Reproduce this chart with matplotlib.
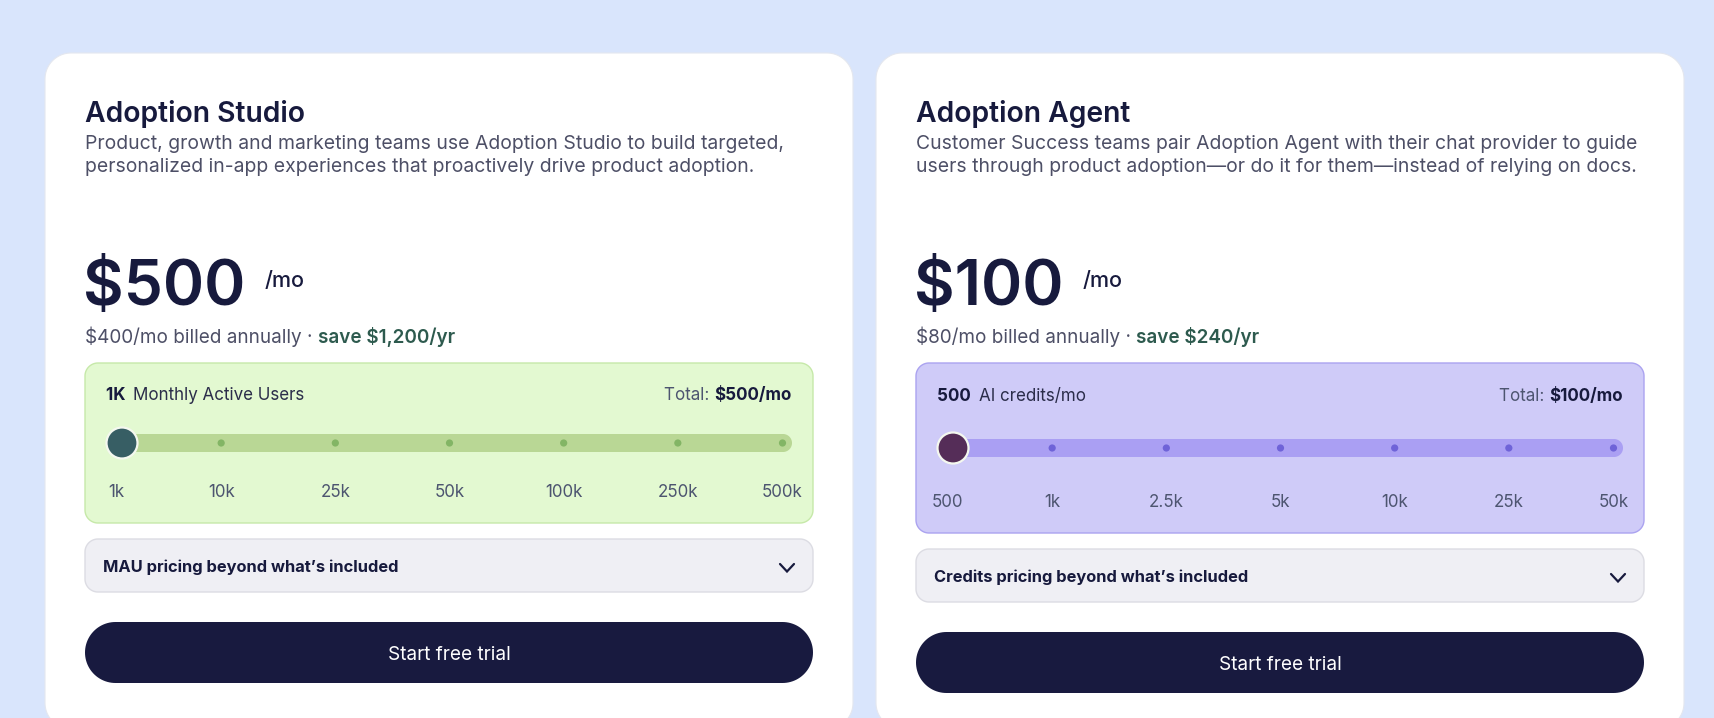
import matplotlib
matplotlib.use("Agg")
import matplotlib.pyplot as plt
from matplotlib.patches import Polygon, Circle
import numpy as np

W, H = 1714, 718
FONT = "Inter"

# card content
titles = ["Adoption Studio", "Adoption Agent"]
descriptions = [
    ["Product, growth and marketing teams use Adoption Studio to build targeted,",
     "personalized in-app experiences that proactively drive product adoption."],
    ["Customer Success teams pair Adoption Agent with their chat provider to guide",
     "users through product adoption\u2014or do it for them\u2014instead of relying on docs."],
]
prices = ["$500", "$100"]
annual_prices = ["$400/mo billed annually \u00b7 ", "$80/mo billed annually \u00b7 "]
savings = ["save $1,200/yr", "save $240/yr"]
usage_amounts = ["1K", "500"]
usage_units = ["Monthly Active Users", "AI credits/mo"]
totals = ["$500/mo", "$100/mo"]
slider_labels = [
    ["1k", "10k", "25k", "50k", "100k", "250k", "500k"],
    ["500", "1k", "2.5k", "5k", "10k", "25k", "50k"],
]
selected_step = [0, 0]
accordion_labels = ["MAU pricing beyond what\u2019s included",
                    "Credits pricing beyond what\u2019s included"]
button_label = "Start free trial"

# per-card look
card_x = [45, 876]
card_w = 808
slider_box_h = [160, 170]
box_fill = ["#e3f9d1", "#cfcbf8"]
box_edge = ["#c6e9a9", "#aba3f0"]
track_col = ["#b9d795", "#aa9ff3"]
dot_col = ["#83b565", "#6f63d8"]
thumb_col = ["#375e64", "#552d58"]

fig = plt.figure(figsize=(W / 100, H / 100), dpi=100)
fig.patch.set_facecolor("#d9e5fc")
ax = fig.add_axes([0, 0, 1, 1])
ax.set_xlim(0, W)
ax.set_ylim(H, 0)
ax.axis("off")
renderer = fig.canvas.get_renderer()


def text_w(s, size, weight="normal"):
    t = ax.text(0, 0, s, fontsize=size, family=FONT, fontweight=weight)
    w = t.get_window_extent(renderer).width
    t.remove()
    return w


def fit(s, target, weight="normal"):
    return 20 * target / text_w(s, 20, weight)


def rbox(x, y, w, h, r, fc, ec="none", lw=0, z=1):
    # rounded rectangle with true circular corners
    r = min(r, w / 2, h / 2)
    pts = []
    corners = [(x + w - r, y + r, -90), (x + w - r, y + h - r, 0),
               (x + r, y + h - r, 90), (x + r, y + r, 180)]
    for ccx, ccy, a0 in corners:
        a = np.radians(np.linspace(a0, a0 + 90, 24))
        pts.extend(zip(ccx + r * np.cos(a), ccy + r * np.sin(a)))
    ax.add_patch(Polygon(pts, closed=True, fc=fc, ec=ec, lw=lw, zorder=z))


def runs(x, y, parts, size, ha="left"):
    # parts: list of (text, weight, color) drawn one after another
    widths = [text_w(p[0], size, p[1]) for p in parts]
    if ha == "right":
        x = x - sum(widths)
    for (s, wt, c), w in zip(parts, widths):
        ax.text(x, y, s, fontsize=size, family=FONT, fontweight=wt, color=c,
                va="baseline", ha="left", zorder=5)
        x += w


title_size = fit(titles[0], 221, "semibold")
desc_size = fit(descriptions[0][0], 697)
price_size = fit(prices[0], 162, "semibold")
small_size = fit(usage_units[0], 172)
acc_size = fit(accordion_labels[0], 297, "bold")
btn_size = fit(button_label, 123)
ann_size = 20 * 369 / (text_w(annual_prices[0], 20) + text_w(savings[0], 20, "semibold"))

for i in range(2):
    cx = card_x[i]
    left = cx + 40
    right = cx + card_w - 40
    inner = right - left
    rbox(cx, 53, card_w, 676, 26, "white", "#e4e7ef", 0.8, z=1)

    ax.text(left, 122, titles[i], fontsize=title_size, family=FONT, fontweight="semibold",
            color="#171a3d", va="baseline", zorder=5)
    for k, line in enumerate(descriptions[i]):
        ax.text(left, 149 + 23.5 * k, line, fontsize=desc_size, family=FONT,
                color="#4d4f66", va="baseline", zorder=5)

    pw = text_w(prices[i], price_size, "semibold")
    ax.text(left - 2, 305, prices[i], fontsize=price_size, family=FONT, fontweight="semibold",
            color="#171a3d", va="baseline", zorder=5)
    ax.text(left + pw + 17, 287, "/mo", fontsize=15.5, family=FONT, fontweight="medium",
            color="#171a3d", va="baseline", zorder=5)
    runs(left, 343, [(annual_prices[i], "normal", "#4d4f66"),
                     (savings[i], "semibold", "#2d5a4e")], ann_size)

    # slider panel
    by = 363
    bh = slider_box_h[i]
    rbox(left, by, inner, bh, 13, box_fill[i], box_edge[i], 1.0, z=2)
    pad = 21
    ty = by + 37 + (bh - 160) * 0.1
    runs(left + pad, ty, [(usage_amounts[i] + "  ", "bold", "#171a3d"),
                          (usage_units[i], "normal", "#2b2d4a")], small_size)
    runs(right - pad, ty, [("Total: ", "normal", "#4d5570"),
                           (totals[i], "bold", "#171a3d")], small_size, ha="right")

    track_y = by + 80 + (bh - 160) * 0.5
    tx0, tx1 = left + pad + 1, right - pad
    rbox(tx0, track_y - 9, tx1 - tx0, 18, 9, track_col[i], z=3)
    labels = slider_labels[i]
    n = len(labels)
    lab_y = by + 134 + (bh - 160) * 1.0
    for j, lab in enumerate(labels):
        px = tx0 + (tx1 - tx0) * j / (n - 1)
        px = min(max(px, tx0 + 9.5), tx1 - 9.5)
        ax.text(px, lab_y, lab, fontsize=small_size, family=FONT, color="#4d5570",
                ha="center", va="baseline", zorder=5)
        if j != selected_step[i]:
            ax.add_patch(Circle((px, track_y), 3.6, fc=dot_col[i], ec="none", zorder=4))
    sx = tx0 + 15 + (tx1 - tx0 - 30) * selected_step[i] / (n - 1)
    ax.add_patch(Circle((sx, track_y), 15.5, fc=thumb_col[i], ec="#f4f8ef", lw=1.6, zorder=6))

    # accordion
    ay = by + bh + 16
    rbox(left, ay, inner, 53, 13, "#efeff4", "#dcdce3", 1.0, z=2)
    ax.text(left + 18, ay + 33, accordion_labels[i], fontsize=acc_size, family=FONT,
            fontweight="bold", color="#171a3d", va="baseline", zorder=5)
    chx, chy = right - 26, ay + 29
    ax.plot([chx - 7, chx, chx + 7], [chy - 4, chy + 3.5, chy - 4], color="#171a3d",
            lw=1.6, solid_capstyle="round", solid_joinstyle="miter", zorder=5)

    # button
    yb = ay + 83
    rbox(left, yb, inner, 61, 30.5, "#181a3f", z=2)
    ax.text(left + inner / 2, yb + 38, button_label, fontsize=btn_size, family=FONT,
            color="white", ha="center", va="baseline", zorder=5)

fig.savefig("out.png", dpi=100, facecolor=fig.get_facecolor())
